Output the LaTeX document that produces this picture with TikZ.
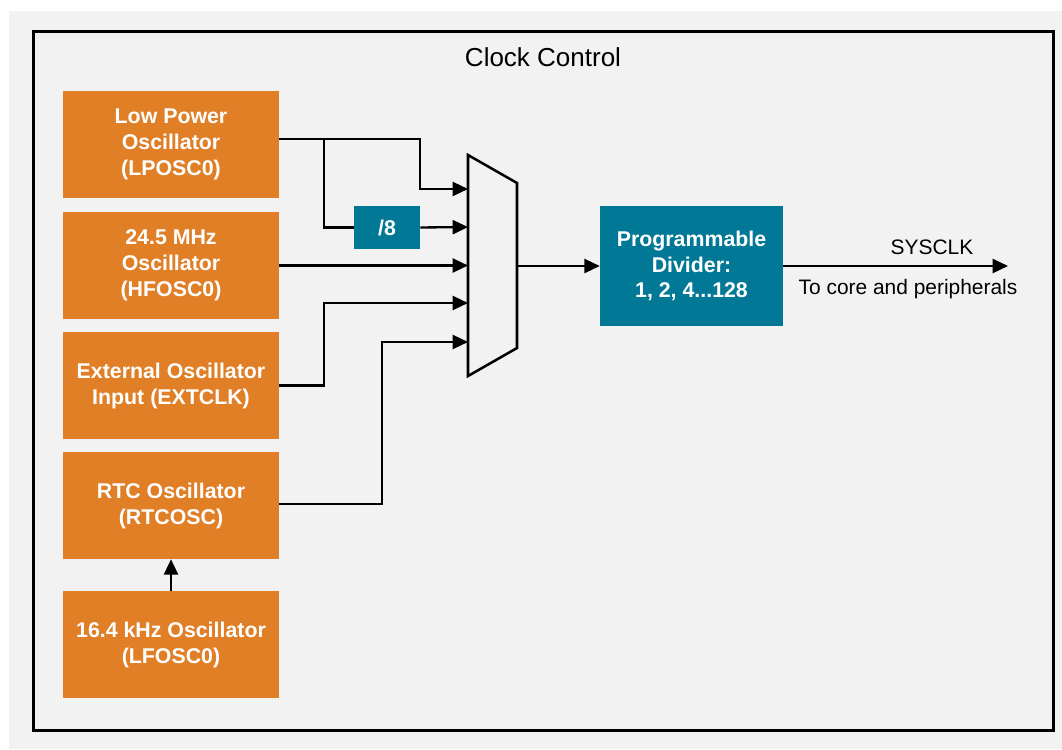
\documentclass[tikz,border=0pt]{standalone}
\usepackage{fontspec}
\setmainfont{Liberation Sans}
\usetikzlibrary{arrows.meta,calc}
\definecolor{bggray}{HTML}{F2F2F2}
\definecolor{oscorange}{HTML}{E17F27}
\definecolor{divteal}{HTML}{007896}
\tikzset{
  osc/.style={fill=oscorange, draw=none, text=white, align=center,
    font=\bfseries\fontsize{16}{19.5}\selectfont,
    minimum width=162pt, minimum height=80.25pt, inner sep=0pt},
  tealbox/.style={fill=divteal, draw=none, text=white, align=center,
    font=\bfseries\fontsize{16}{19.2}\selectfont, inner sep=0pt},
  wire/.style={line width=1.75pt},
  arr/.style={wire, -{Triangle[length=11.5pt,width=10.5pt]}},
  lbl/.style={font=\fontsize{15.7}{18}\selectfont, inner sep=0pt}
}
\begin{document}
\begin{tikzpicture}[x=0.75pt,y=-0.75pt]
\useasboundingbox (0,0) rectangle (1062,749);
\fill[bggray] (9,11) rectangle (1062,749);
\draw[line width=2.25pt] (33,32) rectangle (1053,730);
\node[font=\fontsize{19.5}{22}\selectfont, inner sep=0pt] (title) at (543,57) {Clock Control};

\node[osc] (lp) at (171,144.5) {Low Power\\Oscillator\\(LPOSC0)};
\node[osc] (hf) at (171,265.5) {24.5 MHz\\Oscillator\\(HFOSC0)};
\node[osc] (ext) at (171,385.5) {External Oscillator\\Input (EXTCLK)};
\node[osc] (rtc) at (171,505.5) {RTC Oscillator\\(RTCOSC)};
\node[osc] (lf) at (171,644.5) {16.4 kHz Oscillator\\(LFOSC0)};

\node[tealbox, minimum width=49.5pt, minimum height=32.25pt] (div8) at (387,227.5) {/8};
\node[tealbox, minimum width=137.25pt, minimum height=90pt] (pd) at (691.5,266) {Programmable\\Divider:\\1, 2, 4...128};

% multiplexer
\coordinate (mtl) at (468,155);
\coordinate (mtr) at (517,183);
\coordinate (mbr) at (517,348);
\coordinate (mbl) at (468,376);
\draw[line width=1.9pt, line join=miter] (mtl) -- (mtr) -- (mbr) -- (mbl) -- cycle;
\coordinate (m1) at (468,189);
\coordinate (m2) at (468,227);
\coordinate (m3) at (468,265.5);
\coordinate (m4) at (468,303);
\coordinate (m5) at (468,342);
\coordinate (mo) at (517,266);

\coordinate (lpo) at ($(lp.east)+(0,-5.5)$);
\coordinate (br) at (324,0);
\draw[arr] (lpo) -- (lpo -| 420,0) |- (m1);
\draw[wire] (lpo -| br) |- (div8.west);
\draw[arr] (div8.east) -- (m2);
\draw[arr] (hf.east) -- (m3);
\draw[arr] (ext.east) -| (br |- m4) -- (m4);
\coordinate (rtco) at ($(rtc.east)+(0,-1.5)$);
\draw[arr] (rtco) -| (382,0 |- m5) -- (m5);
\draw[arr] (lf.north) -- (rtc.south);

\draw[arr] (mo) -- (pd.west |- mo);
\coordinate (sysend) at (1008,266);
\draw[arr] (pd.east |- sysend) -- (sysend);
\node[lbl] (sys) at (932,247) {SYSCLK};
\node[lbl] (tocore) at (908,289) {To core and peripherals};
\end{tikzpicture}
\end{document}
